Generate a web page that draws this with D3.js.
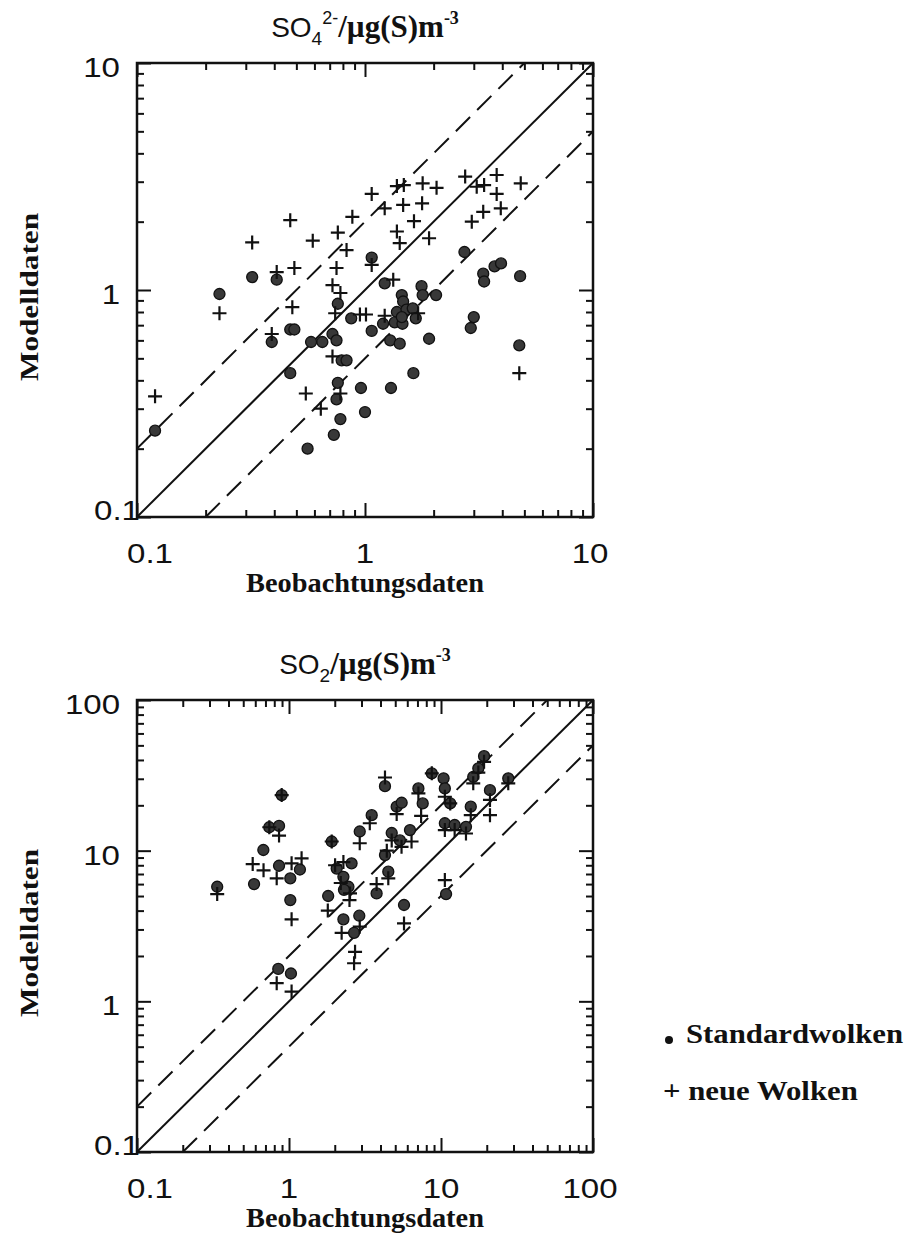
<!DOCTYPE html>
<html>
<head>
<meta charset="utf-8">
<script src="https://cdn.jsdelivr.net/npm/d3@7"></script>
<style>
  body { margin: 0; background: #fff; }
  svg { display: block; }
</style>
</head>
<body>
<div id="chart"></div>
<script>
// SO4 panel: [Beobachtung, Modell]
const so4Standard = [
  [0.32,1.14],[0.41,1.11],[1.07,1.39],[1.22,1.07],[1.77,1.04],[2.73,1.47],[3.7,1.27],[3.95,1.31],
  [3.3,1.18],[3.33,1.09],[4.79,1.15],[0.23,0.96],[0.39,0.59],[0.47,0.67],[0.49,0.67],[0.58,0.59],
  [0.65,0.59],[0.72,0.64],[0.75,0.60],[0.76,0.87],[0.47,0.43],[0.79,0.49],[0.83,0.49],[0.76,0.39],
  [0.75,0.33],[0.78,0.27],[0.73,0.23],[0.56,0.20],[0.96,0.37],[1.0,0.29],[1.30,0.37],[1.63,0.43],
  [0.12,0.24],[0.87,0.75],[1.07,0.66],[1.2,0.71],[1.29,0.60],[1.42,0.58],[1.45,0.95],[1.47,0.89],
  [1.38,0.80],[1.52,0.82],[1.62,0.83],[1.67,0.75],[1.35,0.72],[1.46,0.71],[1.45,0.76],[1.79,0.95],
  [2.05,0.95],[1.91,0.61],[3.0,0.76],[2.91,0.68],[4.75,0.57]
];
const so4Neue = [
  [0.32,1.62],[0.47,2.03],[0.59,1.65],[0.41,1.2],[0.49,1.25],[0.76,1.79],[0.88,2.1],[0.83,1.5],
  [0.75,1.25],[0.72,1.05],[1.07,2.65],[1.07,1.29],[1.22,2.29],[1.33,1.11],[1.38,2.87],[1.48,2.9],
  [1.47,2.37],[1.79,2.95],[1.78,2.41],[2.06,2.82],[1.64,2.01],[1.38,1.81],[1.42,1.61],[1.91,1.69],
  [2.75,3.16],[3.09,2.85],[3.33,2.9],[3.78,3.21],[3.78,2.65],[4.82,2.95],[2.94,2.0],[3.3,2.21],
  [3.94,2.29],[0.23,0.79],[0.12,0.34],[0.39,0.64],[0.48,0.84],[0.78,0.97],[0.74,0.79],[0.95,0.78],
  [1.01,0.78],[1.22,0.77],[1.71,0.79],[0.72,0.51],[0.55,0.35],[0.78,0.35],[0.64,0.30],[4.75,0.43]
];

// SO2 panel
const so2Standard = [
  [0.895,23.4],[0.742,14.3],[0.86,14.6],[0.678,10.1],[0.589,6.0],[0.86,7.94],[1.02,6.55],[1.18,7.5],
  [1.02,4.7],[0.337,5.76],[1.91,11.5],[1.81,5.0],[2.58,8.24],[2.06,7.6],[2.28,6.7],[2.46,5.76],
  [2.28,3.5],[2.9,3.7],[2.68,2.85],[0.85,1.64],[1.03,1.53],[5.71,4.36],[10.8,5.15],[3.77,5.2],
  [4.5,7.25],[4.28,9.35],[2.92,13.4],[3.5,17.2],[4.28,26.8],[4.74,13.1],[5.11,19.6],[5.51,20.8],
  [5.37,11.7],[6.25,13.7],[7.1,25.9],[7.58,20.6],[8.7,32.6],[10.4,30.2],[10.6,25.9],[11.5,20.6],
  [10.6,15.2],[12.3,14.8],[14.6,14.4],[15.7,19.6],[16.3,30.9],[17.6,35.2],[19.2,42.4],[21.0,25.2],
  [27.7,30.2],[2.3,5.5]
];
const so2Neue = [
  [0.895,23.4],[0.742,14.3],[0.86,12.6],[0.577,8.15],[0.68,7.4],[0.83,6.55],[1.04,8.24],[1.21,8.9],
  [1.04,3.5],[0.337,5.15],[1.91,11.5],[1.8,4.0],[2.01,8.0],[2.28,8.4],[2.19,6.1],[2.52,5.2],
  [2.5,4.7],[2.22,2.85],[2.92,3.13],[2.72,2.13],[2.68,1.79],[0.83,1.32],[1.04,1.16],[5.71,3.29],
  [10.6,6.38],[3.77,6.0],[4.5,6.55],[4.4,10.0],[2.92,11.2],[3.4,15.2],[4.28,30.6],[4.74,11.7],
  [5.11,17.5],[5.5,10.6],[6.4,11.5],[7.1,24.0],[7.4,17.0],[8.7,32.6],[10.6,22.8],[11.5,20.6],
  [10.6,13.7],[12.3,13.7],[14.6,13.0],[15.7,17.2],[16.3,28.0],[17.6,33.0],[19.2,38.9],[21.0,21.7],
  [21.0,17.2],[27.7,28.0]
];

const so4Ticks = [0.1, 1, 10];
const so4TickLabels = ['0.1', '1', '10'];
const so2Ticks = [0.1, 1, 10, 100];
const so2TickLabels = ['0.1', '1', '10', '100'];
const ratioLines = [1, 2, 0.5];   // 1:1 solid, factor 2 dashed
const xTitle = 'Beobachtungsdaten';
const yTitle = 'Modelldaten';
const legendLabels = ['Standardwolken', 'neue Wolken'];

const SANS = 'Liberation Sans, Arial, sans-serif';
const SERIF = 'Liberation Serif, Times New Roman, serif';
const INK = '#111';

const svg = d3.select('#chart').append('svg')
    .attr('width', 909)
    .attr('height', 1241);

function minorTicks(ticks) {
    const out = [];
    ticks.slice(0, -1).forEach(d => {
        for (let m = 2; m <= 9; m++) out.push(d * m);
    });
    return out;
}

// text stretched a little sideways, like the original lettering
function wideText(g, tr, str, family, size, sx, anchor, bold) {
    return g.append('text')
        .attr('transform', `${tr} scale(${sx},1)`)
        .attr('text-anchor', anchor)
        .attr('font-family', family)
        .attr('font-weight', bold ? 'bold' : 'normal')
        .attr('font-size', size)
        .attr('fill', INK)
        .text(str);
}

function drawPanel(cfg) {
    const { left, top, w, h, ticks, labels, standard, neue } = cfg;
    const dom = [ticks[0], ticks[ticks.length - 1]];
    const x = d3.scaleLog().domain(dom).range([left, left + w]);
    const y = d3.scaleLog().domain(dom).range([top + h, top]);
    const g = svg.append('g');

    const clipId = 'clip' + top;
    g.append('clipPath').attr('id', clipId)
        .append('rect').attr('x', left).attr('y', top).attr('width', w).attr('height', h);

    // ticks on all four sides, pointing inward
    const minor = minorTicks(ticks);
    const axes = [
        [d3.axisBottom(x), `translate(0,${top + h})`],
        [d3.axisTop(x), `translate(0,${top})`],
        [d3.axisLeft(y), `translate(${left},0)`],
        [d3.axisRight(y), `translate(${left + w},0)`]
    ];
    axes.forEach(([ax, tr]) => {
        [[ticks, 14], [minor, 7]].forEach(([vals, len]) => {
            const a = g.append('g').attr('transform', tr)
                .call(ax.tickValues(vals).tickSize(-len).tickFormat(''));
            a.select('.domain').remove();
            a.selectAll('line').attr('stroke', INK).attr('stroke-width', 2);
        });
    });

    // reference lines y = k x
    const lines = g.append('g').attr('clip-path', `url(#${clipId})`);
    ratioLines.forEach(k => {
        const x0 = Math.max(dom[0], dom[0] / k);
        const x1 = Math.min(dom[1], dom[1] / k);
        lines.append('line')
            .attr('x1', x(x0)).attr('y1', y(x0 * k))
            .attr('x2', x(x1)).attr('y2', y(x1 * k))
            .attr('stroke', INK)
            .attr('stroke-width', 2)
            .attr('stroke-dasharray', k === 1 ? null : '20,10');
    });

    // points
    const pts = g.append('g').attr('clip-path', `url(#${clipId})`);
    pts.selectAll('circle').data(standard).enter().append('circle')
        .attr('cx', d => x(d[0])).attr('cy', d => y(d[1]))
        .attr('r', 5.5)
        .attr('fill', '#383838')
        .attr('stroke', INK)
        .attr('stroke-width', 1.3);
    pts.selectAll('path').data(neue).enter().append('path')
        .attr('d', d => {
            const cx = x(d[0]), cy = y(d[1]), s = 7;
            return `M${cx - s},${cy}H${cx + s}M${cx},${cy - s}V${cy + s}`;
        })
        .attr('stroke', INK)
        .attr('stroke-width', 2.2)
        .attr('fill', 'none');

    // frame
    g.append('rect')
        .attr('x', left).attr('y', top).attr('width', w).attr('height', h)
        .attr('fill', 'none').attr('stroke', INK).attr('stroke-width', 2.5);

    // tick labels
    ticks.forEach((t, i) => {
        const first = i === 0;
        const last = i === ticks.length - 1;
        wideText(g, `translate(${x(t) + (first ? 13 : last ? -3 : 0)},${top + h + 46})`,
            labels[i], SANS, 28, 1.18, 'middle', false);
        wideText(g, `translate(${first ? left + 3 : left - 17},${first ? y(t) + 3 : y(t) + 14})`,
            labels[i], SANS, 28, 1.18, 'end', false);
    });

    // axis titles
    wideText(g, `translate(${left + w / 2},${top + h + 75})`, xTitle, SERIF, 27, 1.05, 'middle', true);
    wideText(g, `translate(38,${top + h / 2 + 7}) rotate(-90)`, yTitle, SERIF, 26, 1.2, 'middle', true);

    // title
    const t = g.append('text')
        .attr('x', left + w / 2)
        .attr('y', top - 26)
        .attr('text-anchor', 'middle')
        .attr('fill', INK);
    t.append('tspan').attr('font-family', SANS).attr('font-size', 28).text('SO');
    t.append('tspan').attr('font-family', SANS).attr('font-size', 19).attr('dy', 8).text(cfg.sub);
    if (cfg.sup) {
        t.append('tspan').attr('font-family', SANS).attr('font-size', 18)
            .attr('dy', -21).text(cfg.sup);
        t.append('tspan').attr('font-family', SERIF).attr('font-weight', 'bold').attr('font-size', 31)
            .attr('dy', 13).text('/\u00b5g(S)m');
    } else {
        t.append('tspan').attr('font-family', SERIF).attr('font-weight', 'bold').attr('font-size', 31)
            .attr('dy', -8).text('/\u00b5g(S)m');
    }
    t.append('tspan').attr('font-family', SERIF).attr('font-weight', 'bold').attr('font-size', 18)
        .attr('dy', -13).text('-3');
}

drawPanel({ left: 137, top: 63, w: 456, h: 454, ticks: so4Ticks, labels: so4TickLabels,
    standard: so4Standard, neue: so4Neue, sub: '4', sup: '2-' });
drawPanel({ left: 137, top: 700, w: 456, h: 452, ticks: so2Ticks, labels: so2TickLabels,
    standard: so2Standard, neue: so2Neue, sub: '2', sup: null });

// legend
const legend = svg.append('g');
legend.append('circle').attr('cx', 669).attr('cy', 1040).attr('r', 4).attr('fill', INK);
wideText(legend, 'translate(686,1043)', legendLabels[0], SERIF, 27, 1.14, 'start', true);
wideText(legend, 'translate(663,1100)', '+ ' + legendLabels[1], SERIF, 27, 1.14, 'start', true);
</script>
</body>
</html>
